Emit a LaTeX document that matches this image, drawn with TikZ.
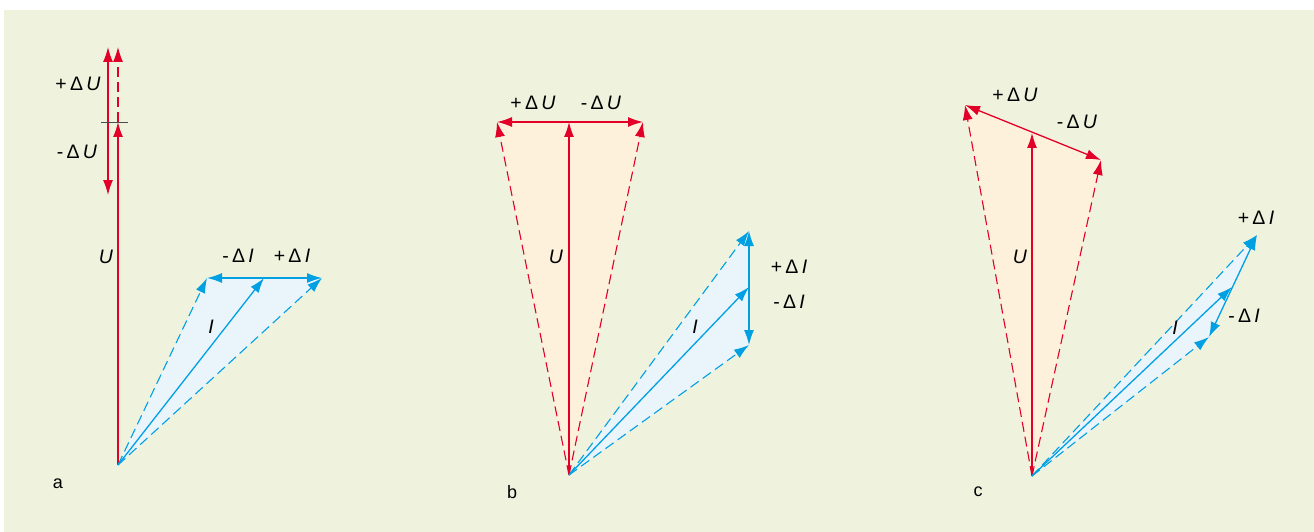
\documentclass[tikz,border=0pt]{standalone}
\usepackage{fontspec}
\setmainfont{Liberation Sans}
\usetikzlibrary{arrows.meta}
\definecolor{bg}{RGB}{239,243,222}
\definecolor{vred}{RGB}{226,0,40}
\definecolor{vblue}{RGB}{0,160,227}
\definecolor{ofill}{RGB}{253,241,220}
\definecolor{bfill}{RGB}{234,244,251}
\tikzset{
  vec/.style={line width=1.3pt,-{Latex[length=15pt,width=10pt]}},
  dvec/.style={line width=1.3pt,{Latex[length=15pt,width=10pt]}-{Latex[length=15pt,width=10pt]}},
  dsh/.style={line width=1.1pt,dash pattern=on 10pt off 5pt},
  lbl/.style={font=\fontsize{19.5}{21}\selectfont,inner sep=0pt},
  plbl/.style={font=\fontsize{18}{20}\selectfont,inner sep=0pt}
}
\begin{document}
\begin{tikzpicture}[x=1pt,y=-1pt]
\useasboundingbox (0,0) rectangle (1314,532);
\fill[bg] (4,10) rectangle (1314,532);
% ---------- panel a ----------
\coordinate (Oa) at (118,465);
\coordinate (Ua) at (118,122);
\coordinate (Uat) at (118,47);
\coordinate (dUat) at (108,47);
\coordinate (dUab) at (108,195);
\coordinate (tkl) at (101,122);
\coordinate (tkr) at (128,122);
\coordinate (Ia) at (264,278);
\coordinate (Iam) at (207,278);
\coordinate (Iap) at (322,278);
\fill[bfill] (Oa) -- (Iam) -- (Iap) -- cycle;
\draw[vred,vec] (Oa) -- (Ua);
\draw[vred,vec,dsh] (Ua) -- (Uat);
\draw[vred,dvec] (dUat) -- (dUab);
\draw[black!70,line width=0.8pt] (tkl) -- (tkr);
\draw[vblue,vec,dsh] (Oa) -- (Iam);
\draw[vblue,vec,dsh] (Oa) -- (Iap);
\draw[vblue,vec] (Oa) -- (Ia);
\draw[vblue,dvec] (Iam) -- (Iap);
\node[lbl] (a1) at (78,84) {+\,Δ\,\textit{U}};
\node[lbl] (a2) at (77,152) {-\,Δ\,\textit{U}};
\node[lbl] (a3) at (106,257) {\textit{U}};
\node[lbl] (a4) at (238,256) {-\,Δ\,\textit{I}};
\node[lbl] (a5) at (292,256) {+\,Δ\,\textit{I}};
\node[lbl] (a6) at (211,327) {\textit{I}};
\node[plbl] (pa) at (58,484) {a};
% ---------- panel b ----------
\coordinate (Ob) at (569,475);
\coordinate (Ub) at (569,122);
\coordinate (Ubp) at (497,122);
\coordinate (Ubm) at (643,122);
\coordinate (Ib) at (749,287);
\coordinate (Ibp) at (749,231);
\coordinate (Ibm) at (749,345);
\fill[ofill] (Ob) -- (Ubp) -- (Ubm) -- cycle;
\fill[bfill] (Ob) -- (Ibp) -- (Ibm) -- cycle;
\draw[vred,vec,dsh] (Ob) -- (Ubp);
\draw[vred,vec,dsh] (Ob) -- (Ubm);
\draw[vred,vec] (Ob) -- (Ub);
\draw[vred,dvec] (Ubp) -- (Ubm);
\draw[vblue,vec,dsh] (Ob) -- (Ibp);
\draw[vblue,vec,dsh] (Ob) -- (Ibm);
\draw[vblue,vec] (Ob) -- (Ib);
\draw[vblue,dvec] (Ibp) -- (Ibm);
\node[lbl] (b1) at (533,103) {+\,Δ\,\textit{U}};
\node[lbl] (b2) at (601,103) {-\,Δ\,\textit{U}};
\node[lbl] (b3) at (556,257) {\textit{U}};
\node[lbl] (b4) at (789,267) {+\,Δ\,\textit{I}};
\node[lbl] (b5) at (789,302) {-\,Δ\,\textit{I}};
\node[lbl] (b6) at (695,327) {\textit{I}};
\node[plbl] (pb) at (512,492) {b};
% ---------- panel c ----------
\coordinate (Oc) at (1032,476);
\coordinate (Uc) at (1032,133);
\coordinate (Ucp) at (965,105);
\coordinate (Ucm) at (1101,160);
\coordinate (Ic) at (1232,287);
\coordinate (Icp) at (1257,235);
\coordinate (Icm) at (1209,337);
\fill[ofill] (Oc) -- (Ucp) -- (Ucm) -- cycle;
\fill[bfill] (Oc) -- (Icp) -- (Icm) -- cycle;
\draw[vred,vec,dsh] (Oc) -- (Ucp);
\draw[vred,vec,dsh] (Oc) -- (Ucm);
\draw[vred,vec] (Oc) -- (Uc);
\draw[vred,dvec] (Ucp) -- (Ucm);
\draw[vblue,vec,dsh] (Oc) -- (Icp);
\draw[vblue,vec,dsh] (Oc) -- (Icm);
\draw[vblue,vec] (Oc) -- (Ic);
\draw[vblue,dvec] (Icp) -- (Icm);
\node[lbl] (c1) at (1015,95) {+\,Δ\,\textit{U}};
\node[lbl] (c2) at (1077,122) {-\,Δ\,\textit{U}};
\node[lbl] (c3) at (1020,257) {\textit{U}};
\node[lbl] (c4) at (1256,218) {+\,Δ\,\textit{I}};
\node[lbl] (c5) at (1244,316) {-\,Δ\,\textit{I}};
\node[lbl] (c6) at (1175,328) {\textit{I}};
\node[plbl] (pc) at (978,492) {c};
\end{tikzpicture}
\end{document}
